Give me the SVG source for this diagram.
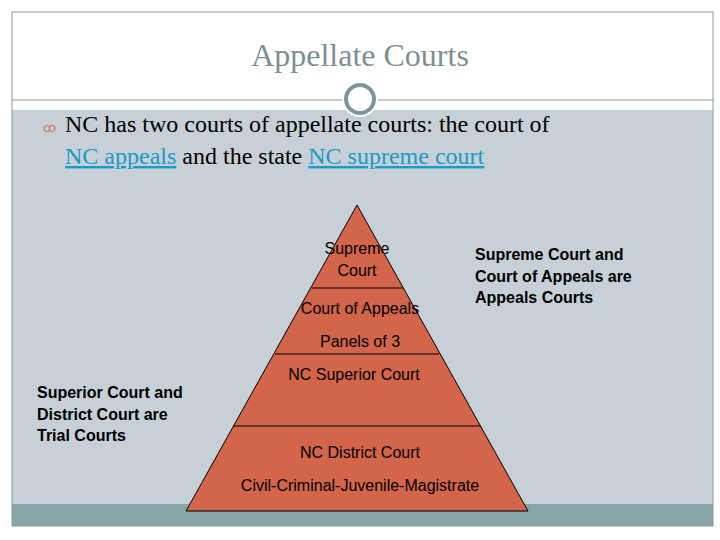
<svg xmlns="http://www.w3.org/2000/svg" width="720" height="540" viewBox="0 0 720 540">
<style>
.t{font-family:"Liberation Sans",Arial,sans-serif;font-size:16px;fill:#000;text-anchor:middle}
.b{font-family:"Liberation Sans",Arial,sans-serif;font-size:16px;font-weight:bold;fill:#000}
.s{font-family:"Liberation Serif","Times New Roman",serif;font-size:24px}
.d{stroke:#000;stroke-width:1}
</style>
<rect x="0" y="0" width="720" height="540" fill="#fff"/>
<rect x="12" y="110" width="701" height="394" fill="#c6d0d6"/>
<rect x="12" y="504" width="701" height="22" fill="#87a6a8"/>
<rect x="12" y="12" width="701" height="514" fill="none" stroke="#8a9a9e" stroke-width="1"/>
<line x1="12" y1="100" x2="713" y2="100" stroke="#8a9a9e" stroke-width="1"/>
<circle cx="360" cy="99" r="18" fill="#fff"/>
<circle cx="360" cy="99" r="14" fill="none" stroke="#7d9699" stroke-width="4"/>
<text x="360" y="66" text-anchor="middle" font-family="'Liberation Serif','Times New Roman',serif" font-size="32" fill="#7d8f92">Appellate Courts</text>
<text x="43" y="132" font-family="'DejaVu Sans',sans-serif" font-size="13" fill="#c87a6a">ꝏ</text>
<text x="65" y="132" class="s" fill="#000">NC has two courts of appellate courts:  the court of</text>
<text x="65" y="164" class="s" fill="#000"><tspan fill="#1a9bc7" text-decoration="underline">NC appeals</tspan> and the state <tspan fill="#1a9bc7" text-decoration="underline">NC supreme court</tspan></text>
<g id="pyramid">
<polygon points="357,205 186,511 528,511" fill="#d2654a" stroke="#000" stroke-width="1"/>
<line class="d" x1="312" y1="288" x2="403" y2="288"/>
<line class="d" x1="275" y1="354" x2="439" y2="354"/>
<line class="d" x1="233" y1="426" x2="481" y2="426"/>
</g>
<g id="supreme"><text class="t" x="357" y="254">Supreme</text><text class="t" x="357" y="276">Court</text></g>
<g id="appeals"><text class="t" x="360" y="314">Court of Appeals</text><text class="t" x="360" y="347">Panels of 3</text></g>
<g id="superior"><text class="t" x="354" y="380">NC Superior Court</text></g>
<g id="district"><text class="t" x="360" y="458">NC District Court</text><text class="t" x="360" y="491">Civil-Criminal-Juvenile-Magistrate</text></g>
<g id="note-right"><text class="b" x="475" y="260">Supreme Court and</text><text class="b" x="475" y="282">Court of Appeals are</text><text class="b" x="475" y="303">Appeals Courts</text></g>
<g id="note-left"><text class="b" x="37" y="398">Superior Court and</text><text class="b" x="37" y="420">District Court are</text><text class="b" x="37" y="441">Trial Courts</text></g>
<g id="connectors"/>
</svg>
